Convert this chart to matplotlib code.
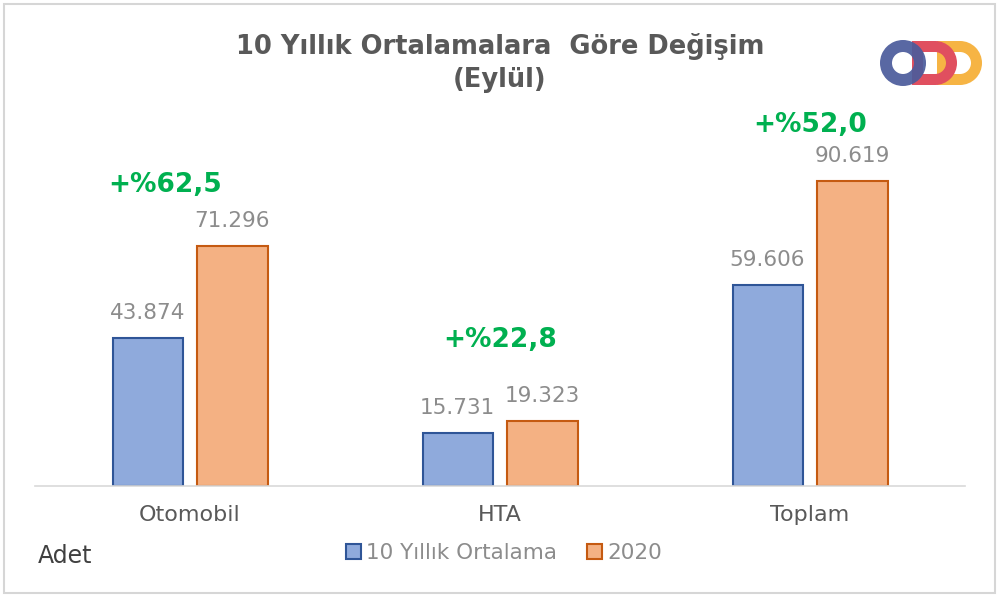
import numpy as np
import matplotlib
matplotlib.use('Agg')
import matplotlib.pyplot as plt
from matplotlib.patches import Rectangle, Annulus, Wedge

plt.rcParams['font.family'] = ['DejaVu Sans']

# Data
categories = ["Otomobil", "HTA", "Toplam"]
avg_10y = [43874, 15731, 59606]
year_2020 = [71296, 19323, 90619]
series_names = ["10 Yıllık Ortalama", "2020"]

# change labels (+%62,5 etc.) from the two series
changes = [(b / a - 1) * 100 for a, b in zip(avg_10y, year_2020)]
change_labels = ["+%" + f"{c:.1f}".replace(".", ",") for c in changes]

blue_fill, blue_edge = "#8FAADC", "#2F5597"
orange_fill, orange_edge = "#F4B183", "#C55A11"
green = "#00B050"
gray_txt = "#8C8C8C"
dark_txt = "#595959"

fig = plt.figure(figsize=(10, 6), dpi=100)
ax = fig.add_axes([0.035, 0.19, 0.93, 0.645])

x = np.arange(len(categories))
w = 0.226
off = 0.137
b1 = ax.bar(x - off, avg_10y, w, color=blue_fill, edgecolor=blue_edge, linewidth=1.5,
            label=series_names[0])
b2 = ax.bar(x + off, year_2020, w, color=orange_fill, edgecolor=orange_edge, linewidth=1.5,
            label=series_names[1])

fmt = lambda v: f"{v:,.0f}".replace(",", ".")
ax.bar_label(b1, labels=[fmt(v) for v in avg_10y], padding=11, color=gray_txt, fontsize=15.5)
ax.bar_label(b2, labels=[fmt(v) for v in year_2020], padding=11, color=gray_txt, fontsize=15.5)

# percent change labels above each group
pct_dx = [-0.08, 0.0, 0.0]   # horizontal nudge (axis units)
pct_dy = [44, 58, 40]        # points above the 2020 bar
for i, lab in enumerate(change_labels):
    ax.annotate(lab, (x[i] + pct_dx[i], year_2020[i]), xytext=(0, pct_dy[i]),
                textcoords="offset points", ha="center", va="center",
                color=green, fontsize=19, fontweight="bold")

ax.set_xlim(-0.5, 2.5)
ax.set_ylim(0, 115000)
ax.set_yticks([])
ax.set_xticks(x)
ax.set_xticklabels(categories, fontsize=16, color=dark_txt)
ax.tick_params(axis="x", length=0, pad=14)
for s in ["top", "right", "left"]:
    ax.spines[s].set_visible(False)
ax.spines["bottom"].set_color("#D9D9D9")
ax.spines["bottom"].set_linewidth(1.2)

fig.text(0.5, 0.922, "10 Yıllık Ortalamalara  Göre Değişim", ha="center", va="center",
         fontsize=18.5, fontweight="bold", color=dark_txt)
fig.text(0.5, 0.867, "(Eylül)", ha="center", va="center",
         fontsize=18.5, fontweight="bold", color=dark_txt)

fig.text(0.038, 0.073, "Adet", ha="left", va="center", fontsize=17, color="#404040")

fig.legend(loc="center", bbox_to_anchor=(0.504, 0.078), ncol=2, frameon=False,
           fontsize=15.5, handlelength=0.7, handleheight=0.7, handletextpad=0.25,
           columnspacing=1.4, labelcolor=gray_txt)

# overlay for frame and logo (pixel coords)
ov = fig.add_axes([0, 0, 1, 1], zorder=-1)
ov.set_xlim(0, 1000)
ov.set_ylim(600, 0)
ov.axis("off")
ov.add_patch(Rectangle((4, 4), 991, 589, fill=False, edgecolor="#D6D6D6", linewidth=1.5))

lg = fig.add_axes([0, 0, 1, 1], zorder=5)
lg.set_xlim(0, 1000)
lg.set_ylim(600, 0)
lg.axis("off")
lg.patch.set_alpha(0)
cy, r, t = 63, 22, 11
for sx, col in [(937, "#F6B444"), (912, "#E04F5F")]:
    cx = sx + 23
    lg.add_patch(Rectangle((sx, cy - r), t, 2 * r, color=col, lw=0))
    lg.add_patch(Rectangle((sx + t - 0.5, cy - r), cx - sx - t + 1, t, color=col, lw=0))
    lg.add_patch(Rectangle((sx + t - 0.5, cy + r - t), cx - sx - t + 1, t, color=col, lw=0))
    lg.add_patch(Wedge((cx, cy), r, -90, 90, width=t, color=col, lw=0))
lg.add_patch(Annulus((903, cy), r + 1, t + 1, color="#4B5B9B", alpha=0.92, lw=0))

fig.savefig("out.png", dpi=100)
